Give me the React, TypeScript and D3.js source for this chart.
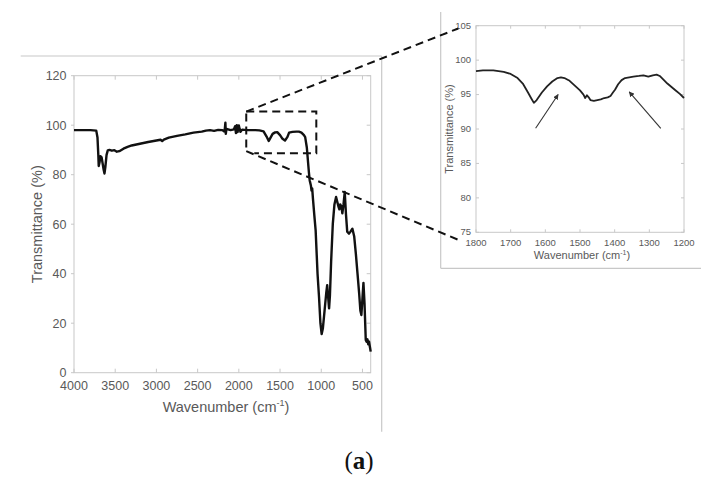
import React from "react";
import * as d3 from "d3";

// Main spectrum: wavenumber (cm-1), transmittance (%)
const mainWave = [4000,3900,3800,3730,3715,3705,3700,3690,3680,3665,3650,3640,3630,3620,3605,3590,3570,3540,3510,3480,3450,3400,3350,3300,3200,3100,3000,2950,2930,2910,2850,2750,2650,2550,2450,2400,2350,2300,2250,2200,2180,2170,2163,2158,2150,2100,2060,2045,2035,2025,2015,2000,1990,1980,1960,1900,1800,1750,1700,1665,1637,1615,1590,1560,1534,1500,1470,1440,1410,1390,1350,1300,1271,1240,1210,1195,1175,1150,1140,1125,1118,1110,1100,1085,1068,1045,1027,1010,995,980,960,940,928,915,905,895,880,860,840,820,805,790,780,770,755,744,730,715,700,685,663,645,622,600,580,560,540,525,513,500,488,475,460,450,440,430,420,410,400];
const mainT = [98,98,98,97.8,95,88,83.5,85,87.5,87,84,82,80.5,83,88,89.8,90,89.7,89.9,89.3,89.5,90.5,91.2,91.8,92.5,93.2,93.8,94.1,93.6,94.2,95,95.7,96.3,97,97.4,97.8,98,97.7,98.1,98,97.5,98.5,101,96.5,98.5,98,98.3,99.6,96.8,100,97.2,99.9,98.5,97.3,98.2,98,98,97.9,97.5,95.5,93.6,95,96.5,97.1,97.2,96,94.5,93.8,95.3,97,97.3,97.4,97.4,97,96,95.2,91,81,77.7,75.5,73.6,74.5,70,64,57.5,40,30.6,20,15.6,18,25,32,35.4,30,26,31,45,60,68,71,69,67,66,68,67,64.4,68,73,64,57,56.2,57,58.2,55,48,40,32,25,23.3,30,36.3,28,13.2,12.5,13.5,11.5,12.5,10.5,8.5];

// Inset spectrum (1800-1200 cm-1)
const insetWave = [1800,1780,1750,1720,1700,1680,1665,1650,1640,1633,1625,1610,1595,1580,1565,1555,1545,1530,1515,1500,1490,1485,1480,1475,1470,1460,1450,1440,1430,1420,1412,1405,1399,1390,1380,1370,1346,1330,1317,1303,1290,1279,1270,1260,1248,1236,1224,1212,1200];
const insetT = [98.4,98.5,98.5,98.3,98,97.4,96.6,95.3,94.4,93.8,94.2,95.3,96.2,96.9,97.4,97.5,97.4,97,96.3,95.6,95,94.5,94.9,94.6,94.2,94.1,94.2,94.3,94.5,94.6,94.8,95.3,95.7,96.5,97.1,97.4,97.6,97.7,97.8,97.6,97.8,97.9,97.7,97.2,96.6,96.1,95.6,95.1,94.5];

const mainXTicks = [4000,3500,3000,2500,2000,1500,1000,500];
const mainYTicks = [0,20,40,60,80,100,120];
const insetXTicks = [1800,1700,1600,1500,1400,1300,1200];
const insetYTicks = [75,80,85,90,95,100,105];

// Zoom box on main chart (wavenumber, %T)
const zoomBoxWave = [1910, 1060];
const zoomBoxT = [105.5, 88.7];
// Connector end points in inset coordinates
const connectorWave = 1851;
const connectorT = [104.6, 73.9];
// Arrows in inset coordinates [fromWave, fromT, toWave, toT]
const arrows = [
  [1628, 90.1, 1563, 95.0],
  [1267, 90.1, 1358, 95.4],
];

const SANS = "'Liberation Sans', Arial, sans-serif";
const TXT = "#595959";
const GRID = "#c8c8c8";

export default function App() {
  const mx = d3.scaleLinear().domain([4000, 400]).range([74, 370.7]);
  const my = d3.scaleLinear().domain([0, 120]).range([372.7, 75.7]);
  const ix = d3.scaleLinear().domain([1800, 1200]).range([476, 684]);
  const iy = d3.scaleLinear().domain([75, 105]).range([232.3, 25.7]);

  const mainLine = d3.line<number>().x((_, i) => mx(mainWave[i])).y((d) => my(d));
  const insetLine = d3.line<number>().x((_, i) => ix(insetWave[i])).y((d) => iy(d));

  const [mL, mR] = mx.range();
  const [mB, mT] = my.range();
  const [iL, iR] = ix.range();
  const [iB, iT] = iy.range();

  const bx0 = mx(zoomBoxWave[0]);
  const bx1 = mx(zoomBoxWave[1]);
  const by0 = my(zoomBoxT[0]);
  const by1 = my(zoomBoxT[1]);

  return (
    <svg width={716} height={489} style={{ position: "absolute", left: 0, top: 0, background: "#fff" }}>
      <defs>
        <marker id="ah" viewBox="0 0 10 10" refX="9" refY="5" markerWidth="5" markerHeight="5" orient="auto">
          <path d="M0,0 L10,5 L0,10 z" fill="#333" />
        </marker>
      </defs>
      <rect width={716} height={489} fill="#fff" />

      {/* outer figure frame lines */}
      <line x1={20.7} y1={56} x2={381.7} y2={56} stroke={GRID} strokeWidth={1.2} />
      <line x1={381.7} y1={56} x2={381.7} y2={431.7} stroke={GRID} strokeWidth={1.2} />

      {/* main plot frame */}
      <rect x={mL} y={mT} width={mR - mL} height={mB - mT} fill="none" stroke={GRID} strokeWidth={1} />
      {mainXTicks.map((t) => (
        <g key={"mx" + t}>
          <line x1={mx(t)} x2={mx(t)} y1={mB} y2={mB - 4} stroke={GRID} />
          <line x1={mx(t)} x2={mx(t)} y1={mT} y2={mT + 4} stroke={GRID} />
          <text x={mx(t)} y={390} textAnchor="middle" fontFamily={SANS} fontSize={12.5} fill={TXT}>{t}</text>
        </g>
      ))}
      {mainYTicks.map((t) => (
        <g key={"my" + t}>
          <line x1={mL} x2={mL - 3} y1={my(t)} y2={my(t)} stroke={GRID} />
          <line x1={mR} x2={mR - 4} y1={my(t)} y2={my(t)} stroke={GRID} />
          <text x={66.5} y={my(t) + 4.5} textAnchor="end" fontFamily={SANS} fontSize={12.5} fill={TXT}>{t}</text>
        </g>
      ))}
      <text x={226} y={412} textAnchor="middle" fontFamily={SANS} fontSize={14.5} fill={TXT}>
        Wavenumber (cm<tspan dy={-6} fontSize={9}>-1</tspan><tspan dy={6}>)</tspan>
      </text>
      <text transform={`translate(41.5,${(mT + mB) / 2}) rotate(-90)`} textAnchor="middle" fontFamily={SANS} fontSize={14.5} fill={TXT}>
        Transmittance (%)
      </text>
      <path d={mainLine(mainT) || ""} fill="none" stroke="#111" strokeWidth={2.4} strokeLinejoin="round" />

      {/* inset frame lines */}
      <line x1={440.7} y1={12} x2={440.7} y2={268.3} stroke={GRID} strokeWidth={1.2} />
      <line x1={440.7} y1={268.3} x2={701} y2={268.3} stroke={GRID} strokeWidth={1.2} />

      {/* inset plot */}
      <rect x={iL} y={iT} width={iR - iL} height={iB - iT} fill="none" stroke={GRID} strokeWidth={1} />
      {insetXTicks.map((t) => (
        <g key={"ix" + t}>
          <line x1={ix(t)} x2={ix(t)} y1={iB} y2={iB - 3} stroke={GRID} />
          <line x1={ix(t)} x2={ix(t)} y1={iT} y2={iT + 3} stroke={GRID} />
          <text x={ix(t)} y={245.5} textAnchor="middle" fontFamily={SANS} fontSize={9.5} fill={TXT}>{t}</text>
        </g>
      ))}
      {insetYTicks.map((t) => (
        <g key={"iy" + t}>
          <line x1={iL} x2={iL + 3} y1={iy(t)} y2={iy(t)} stroke={GRID} />
          <line x1={iR} x2={iR - 3} y1={iy(t)} y2={iy(t)} stroke={GRID} />
          <text x={471} y={iy(t) + 2.8} textAnchor="end" fontFamily={SANS} fontSize={9.5} fill={TXT}>{t}</text>
        </g>
      ))}
      <text x={582} y={259} textAnchor="middle" fontFamily={SANS} fontSize={11} fill={TXT}>
        Wavenumber (cm<tspan dy={-4.5} fontSize={7}>-1</tspan><tspan dy={4.5}>)</tspan>
      </text>
      <text transform={`translate(452.5,${(iT + iB) / 2}) rotate(-90)`} textAnchor="middle" fontFamily={SANS} fontSize={11} fill={TXT}>
        Transmittance (%)
      </text>
      <path d={insetLine(insetT) || ""} fill="none" stroke="#222" strokeWidth={1.8} strokeLinejoin="round" />
      {arrows.map((a, i) => (
        <line key={"ar" + i} x1={ix(a[0])} y1={iy(a[1])} x2={ix(a[2])} y2={iy(a[3])} stroke="#333" strokeWidth={1.1} markerEnd="url(#ah)" />
      ))}

      {/* zoom box and connectors */}
      <g fill="none" stroke="#111" strokeWidth={2} strokeDasharray="8,5">
        <path d={`M${bx0},${by0} L${bx1},${by0} L${bx1},${by1} L${bx0 + 8},${by1}`} />
        <path d={`M${bx0},${by0 + 2} L${bx0},${by1 - 2}`} />
        <line x1={bx0} y1={by0} x2={ix(connectorWave)} y2={iy(connectorT[0])} />
        <line x1={bx0} y1={by1 - 2} x2={ix(connectorWave)} y2={iy(connectorT[1])} />
      </g>

      <text x={359} y={469} textAnchor="middle" fontFamily="'Liberation Serif', 'Times New Roman', serif" fontSize={25} fill="#111">
        (<tspan fontWeight="bold">a</tspan>)
      </text>
    </svg>
  );
}
